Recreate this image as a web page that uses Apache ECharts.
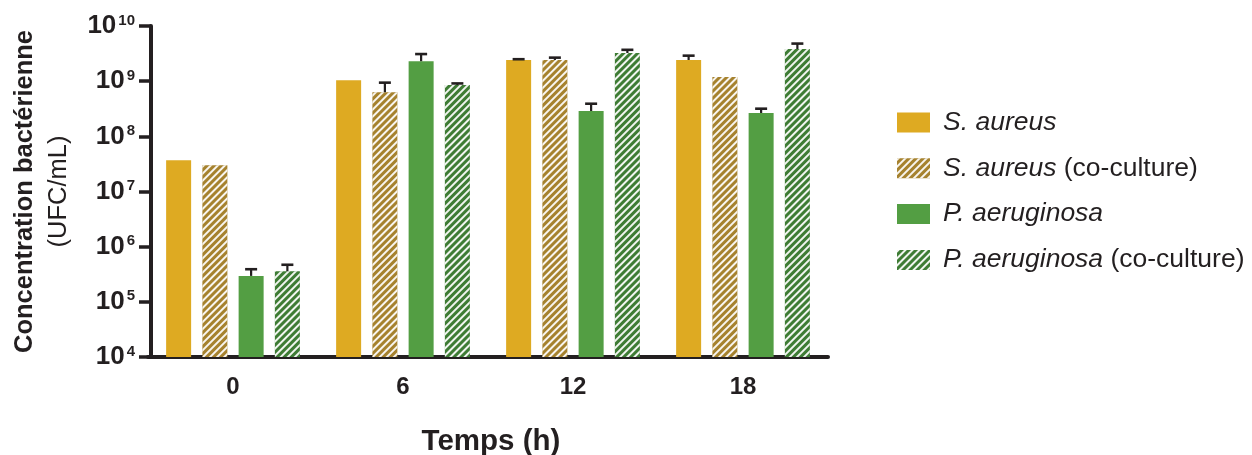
<!DOCTYPE html>
<html>
<head>
<meta charset="utf-8">
<script src="https://cdn.jsdelivr.net/npm/echarts@6/dist/echarts.min.js"></script>
<style>
html,body{margin:0;padding:0;background:#fff;}
#chart{width:1252px;height:455px;}
</style>
</head>
<body>
<div id="chart"></div>
<script>
// ---- data ----
const categories = ['0', '6', '12', '18'];
const seriesNames = ['S. aureus', 'S. aureus (co-culture)', 'P. aeruginosa', 'P. aeruginosa (co-culture)'];
const saureus      = [3.7e7, 1.04e9, 2.42e9, 2.42e9];
const saureusCo    = [3.0e7, 6.3e8, 2.42e9, 1.19e9];
const paeruginosa  = [2.95e5, 2.3e9, 2.88e8, 2.65e8];
const paeruginosaCo= [3.6e5, 8.5e8, 3.24e9, 3.83e9];
// upper end of error bars (null = none visible)
const saureusErr      = [null, null, 2.5e9, 2.9e9];
const saureusCoErr    = [null, 9.4e8, 2.67e9, null];
const paeruginosaErr  = [3.9e5, 3.1e9, 3.9e8, 3.17e8];
const paeruginosaCoErr= [4.7e5, 9.1e8, 3.7e9, 4.8e9];
const yTickExponents = [4, 5, 6, 7, 8, 9, 10];

// ---- style ----
const INK = '#231f20';
const colors = ['#DEAA22', '#A6822E', '#539E43', '#3E7C34'];
const hatch = {
  symbol: 'rect', symbolSize: 1, color: 'rgba(255,255,255,0.92)',
  dashArrayX: [1, 0], dashArrayY: [1.5, 2.6], rotation: -Math.PI / 4
};
const BAR_W = 25, BAR_GAP = 0.45;

const values = [saureus, saureusCo, paeruginosa, paeruginosaCo];
const errs = [saureusErr, saureusCoErr, paeruginosaErr, paeruginosaCoErr];

const barSeries = values.map((v, i) => ({
  name: seriesNames[i],
  type: 'bar',
  barWidth: BAR_W,
  barGap: (BAR_GAP * 100) + '%',
  data: v,
  itemStyle: Object.assign({ color: colors[i] }, (i % 2 === 1) ? { decal: hatch } : {}),
  emphasis: { disabled: true },
  z: 2
}));

const n = values.length;
const total = n * BAR_W + (n - 1) * BAR_GAP * BAR_W;
const errSeries = errs.map((e, i) => {
  const offset = -total / 2 + i * BAR_W * (1 + BAR_GAP) + BAR_W / 2;
  const data = [];
  e.forEach((top, c) => { if (top != null) data.push([c, values[i][c], top]); });
  return {
    type: 'custom',
    silent: true,
    z: 5,
    data: data,
    encode: { x: 0, y: [1, 2] },
    renderItem: function (params, api) {
      const p0 = api.coord([api.value(0), api.value(1)]);
      const p1 = api.coord([api.value(0), api.value(2)]);
      const x = p0[0] + offset;
      const cap = 6;
      return {
        type: 'group',
        children: [
          { type: 'line', shape: { x1: x, y1: p0[1], x2: x, y2: p1[1] }, style: { stroke: INK, lineWidth: 2.2 } },
          { type: 'line', shape: { x1: x - cap, y1: p1[1], x2: x + cap, y2: p1[1] }, style: { stroke: INK, lineWidth: 2.6 } }
        ]
      };
    }
  };
});

const chart = echarts.init(document.getElementById('chart'), null, { renderer: 'canvas' });
const FONT = '"Liberation Sans", Arial, Helvetica, sans-serif';
chart.setOption({
  animation: false,
  aria: { enabled: false },
  grid: { left: 148, width: 680, top: 26, bottom: 98, containLabel: false, outerBoundsMode: 'none' },
  legend: {
    orient: 'vertical',
    left: 892, top: 104,
    itemWidth: 33, itemHeight: 20, itemGap: 18.8,
    icon: 'rect',
    data: seriesNames,
    textStyle: {
      fontFamily: FONT, fontSize: 26.5, color: INK, lineHeight: 20, padding: [0, 0, 0, 8],
      rich: {
        i: { fontFamily: FONT, fontSize: 26.5, fontStyle: 'italic', color: INK, lineHeight: 20 },
        r: { fontFamily: FONT, fontSize: 26.5, color: INK, lineHeight: 20 }
      }
    },
    formatter: function (name) {
      const m = name.match(/^(.*?)( \(co-culture\))?$/);
      return '{i|' + m[1] + '}' + (m[2] ? '{r|' + m[2] + '}' : '');
    }
  },
  xAxis: {
    type: 'category',
    data: categories,
    name: 'Temps (h)',
    nameLocation: 'middle',
    nameGap: 70,
    nameTextStyle: { fontFamily: FONT, fontSize: 29.5, fontWeight: 'bold', color: INK, padding: [0, 0, 0, 6] },
    axisLine: { lineStyle: { color: INK, width: 4 } },
    axisTick: { alignWithLabel: true, length: 10, lineStyle: { color: INK, width: 3.5 } },
    axisLabel: { fontFamily: FONT, fontSize: 24, fontWeight: 'bold', color: INK, margin: 18 },
    splitLine: { show: false }
  },
  yAxis: {
    type: 'log',
    logBase: 10,
    min: 1e4, max: 1e10,
    offset: -3,
    name: '{b|Concentration bactérienne}\n{r|(UFC/mL)}',
    nameLocation: 'middle',
    nameGap: 75,
    nameRotate: 90,
    nameTextStyle: {
      rich: {
        b: { fontFamily: FONT, fontSize: 25.5, fontWeight: 'bold', color: INK, lineHeight: 34 },
        r: { fontFamily: FONT, fontSize: 25.5, color: INK, lineHeight: 34 }
      }
    },
    axisLine: { show: true, lineStyle: { color: INK, width: 4 } },
    axisTick: { show: true, length: 12, lineStyle: { color: INK, width: 3.5 } },
    minorTick: { show: false },
    splitLine: { show: false },
    axisLabel: {
      margin: 16,
      formatter: function (v) {
        const e = Math.round(Math.log10(v));
        if (yTickExponents.indexOf(e) < 0) return '';
        return '{b|10}{s|' + e + '}';
      },
      rich: {
        b: { fontFamily: FONT, fontSize: 26, fontWeight: 'bold', color: INK, lineHeight: 26, verticalAlign: 'bottom' },
        s: { fontFamily: FONT, fontSize: 15, fontWeight: 'bold', color: INK, lineHeight: 26, verticalAlign: 'top', padding: [0, 0, 0, 2] }
      }
    }
  },
  series: barSeries.concat(errSeries)
});
</script>
</body>
</html>
